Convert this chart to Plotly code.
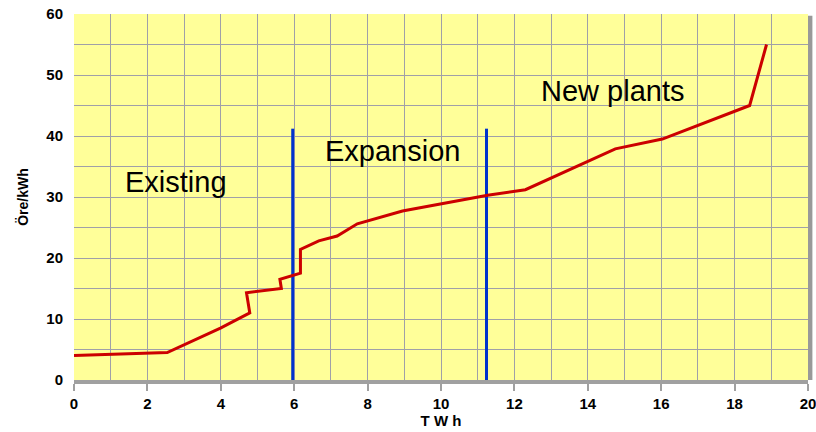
import plotly.graph_objects as go

# Supply curve (TWh vs öre/kWh)
twh = [0, 2.54, 3.99, 4.79, 4.70, 5.65, 5.61, 6.17, 6.17, 6.67, 7.17, 7.72, 8.95, 10.4, 11.27, 12.3, 14.75, 16.03, 18.41, 18.87]
ore = [4.0, 4.5, 8.5, 11.0, 14.3, 15.0, 16.5, 17.5, 21.4, 22.8, 23.6, 25.6, 27.7, 29.3, 30.3, 31.2, 37.9, 39.5, 45.0, 55.0]

# Boundary lines
boundary_x = [5.96, 11.24]
boundary_top = 41.2

# Region labels
label_text = ["Existing", "Expansion", "New plants"]
label_x = [2.77, 8.68, 14.67]
label_y = [32.5, 37.5, 47.4]

x_ticks = [0, 2, 4, 6, 8, 10, 12, 14, 16, 18, 20]
y_ticks = [0, 10, 20, 30, 40, 50, 60]
x_ticktext = ["<b>%d</b>" % v for v in x_ticks]
y_ticktext = ["<b>%d</b>" % v for v in y_ticks]

FONT = "Arial, Liberation Sans, sans-serif"

fig = go.Figure()

for bx in boundary_x:
    fig.add_trace(go.Scatter(x=[bx, bx], y=[0, boundary_top], mode="lines",
                             line=dict(color="#0033cc", width=3), showlegend=False,
                             hoverinfo="skip"))

fig.add_trace(go.Scatter(x=twh, y=ore, mode="lines",
                         line=dict(color="#cc0000", width=3), showlegend=False))

for t, x, y in zip(label_text, label_x, label_y):
    fig.add_annotation(x=x, y=y, text=t, showarrow=False, xanchor="center", yanchor="middle",
                       font=dict(family=FONT, size=29, color="#000000"))

# right shadow
fig.add_shape(type="rect", xref="x domain", yref="y domain", x0=1.0, x1=1.006, y0=0, y1=0.995,
              fillcolor="#999999", line=dict(width=0), layer="below")

fig.update_layout(
    width=816, height=432,
    margin=dict(l=74, r=8, t=14, b=52, autoexpand=False),
    paper_bgcolor="white", plot_bgcolor="#ffff99",
    font=dict(family=FONT, color="#000000"),
    xaxis=dict(range=[0, 20], tickvals=x_ticks, ticktext=x_ticktext,
               showgrid=True, gridcolor="#a0a0a8", gridwidth=1.2,
               minor=dict(dtick=1, showgrid=True, gridcolor="#a0a0a8", gridwidth=1.2),
               showline=True, linecolor="#a0a0a0", linewidth=4,
               ticks="outside", ticklen=7, tickwidth=2, tickcolor="#a0a0a0",
               tickfont=dict(size=15, family=FONT), ticklabeloverflow="allow",
               title=dict(text="<b>T W h</b>", font=dict(size=15), standoff=2),
               automargin=False, zeroline=False, fixedrange=True),
    yaxis=dict(range=[0, 60], tickvals=y_ticks, ticktext=y_ticktext,
               showgrid=True, gridcolor="#a0a0a8", gridwidth=1.2,
               minor=dict(dtick=5, showgrid=True, gridcolor="#a0a0a8", gridwidth=1.2),
               showline=False, ticks="", ticklabelstandoff=10,
               tickfont=dict(size=15, family=FONT), ticklabeloverflow="allow",
               title=dict(text="<b>Öre/kWh</b>", font=dict(size=14), standoff=14),
               automargin=False, zeroline=False, fixedrange=True),
)

# remove the page's default 8px body margin so the figure sits at the window origin
fig.write_html("out.html", config={"displayModeBar": False},
               post_script="document.body.style.margin='0';")
